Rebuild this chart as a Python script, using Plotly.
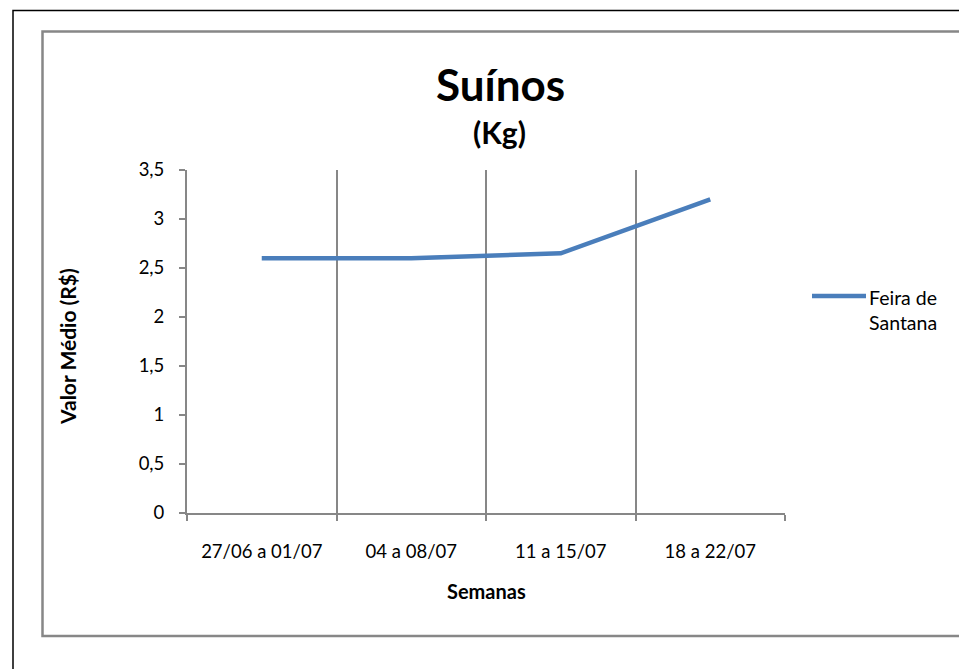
import plotly.graph_objects as go

semanas = ["27/06 a 01/07", "04 a 08/07", "11 a 15/07", "18 a 22/07"]
valores = [2.6, 2.6, 2.65, 3.2]
serie_nome = "Feira de<br>Santana"
y_ticks = [0, 0.5, 1, 1.5, 2, 2.5, 3, 3.5]
y_labels = ["0", "0,5", "1", "1,5", "2", "2,5", "3", "3,5"]

W, H = 959, 669
L, R, T, B = 187, 785, 170, 513
FONT = "Lato"
GRAY = "#878787"
BLUE = "#4A7EBB"


def px(x):
    return (x - L) / (R - L)


def py(y):
    return (B - y) / (B - T)


fig = go.Figure()
fig.add_trace(go.Scatter(
    x=semanas, y=valores, mode="lines",
    line=dict(color=BLUE, width=4.5),
    name=serie_nome, showlegend=False,
))

fig.update_layout(
    width=W, height=H,
    margin=dict(l=L, r=W - R, t=T, b=H - B, pad=0),
    paper_bgcolor="white", plot_bgcolor="white",
    font=dict(family=FONT, size=18, color="black"),
    xaxis=dict(
        type="category", range=[-0.5, 3.5], tickson="boundaries",
        showgrid=True, gridcolor=GRAY, gridwidth=2,
        showline=True, linecolor=GRAY, linewidth=2,
        ticks="outside", ticklen=6, tickcolor=GRAY, tickwidth=2,
        ticklabelstandoff=21, tickfont=dict(size=18.5),
        zeroline=False,
    ),
    yaxis=dict(
        range=[0, 3.5], tickvals=y_ticks, ticktext=y_labels,
        showgrid=False, showline=True, linecolor=GRAY, linewidth=2,
        ticks="outside", ticklen=6, tickcolor=GRAY, tickwidth=2,
        ticklabelstandoff=11, tickfont=dict(size=18.5), zeroline=False,
    ),
)

shapes = [
    # outer black border
    dict(type="rect", xref="paper", yref="paper",
         x0=px(13), y0=py(670), x1=px(962), y1=py(10.5),
         line=dict(color="black", width=1.5), layer="below"),
    # inner chart-area border
    dict(type="rect", xref="paper", yref="paper",
         x0=px(42.5), y0=py(636), x1=px(965), y1=py(31.5),
         line=dict(color=GRAY, width=2.5), layer="below"),
    # legend sample line
    dict(type="line", xref="paper", yref="paper",
         x0=px(812), y0=py(296), x1=px(866), y1=py(296),
         line=dict(color=BLUE, width=4.5)),
]
fig.update_layout(shapes=shapes)

ann = [
    dict(text="<b>Suínos</b>", x=px(500), y=py(84), font=dict(size=44)),
    dict(text="<b>(Kg)</b>", x=px(499), y=py(132), font=dict(size=30)),
    dict(text="<b>Semanas</b>", x=px(486), y=py(591), font=dict(size=20)),
    dict(text="<b>Valor Médio (R$)</b>", x=px(67), y=py(347), font=dict(size=21), textangle=-90),
    dict(text=serie_nome, x=px(867), y=py(310), xanchor="left", align="left",
         font=dict(size=19.5, lineheight=1.5) if False else dict(size=19.5)),
]
for a in ann:
    a.setdefault("xanchor", "center")
    fig.add_annotation(xref="paper", yref="paper", showarrow=False,
                       yanchor="middle", **a)

fig.write_html("out.html", config={"displayModeBar": False})

with open("out.html", encoding="utf-8") as f:
    html = f.read()
html = html.replace("<body>", '<body style="margin:0;overflow:hidden">', 1)
with open("out.html", "w", encoding="utf-8") as f:
    f.write(html)
